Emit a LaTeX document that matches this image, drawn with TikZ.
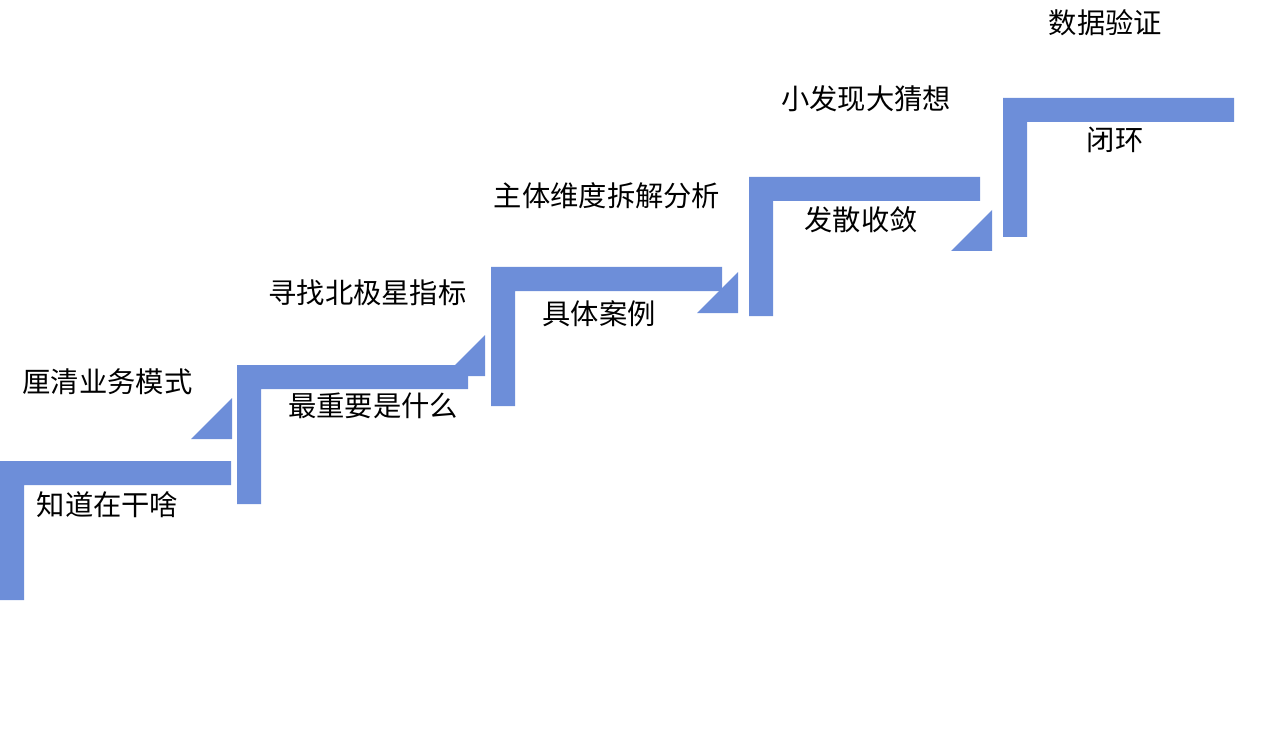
\documentclass[tikz,border=0pt]{standalone}
\usepackage{fontspec}
\usepackage{tikz}
\newfontfamily\cjkfont{Noto Sans CJK SC}
\definecolor{stepblue}{RGB}{109,142,217}

\begin{document}
\begin{tikzpicture}[x=1pt, y=-1pt,
    stepbar/.style={fill=stepblue},
    wedge/.style={fill=stepblue},
    lbl/.style={inner sep=0pt, font=\cjkfont\fontsize{28.3}{34}\selectfont}]
  \useasboundingbox (0,0) rectangle (1280,746);
  \coordinate (s1) at (0,461);
  \coordinate (s2) at (237,365);
  \coordinate (s3) at (491,267);
  \coordinate (s4) at (749,177);
  \coordinate (s5) at (1003,98);
  \coordinate (t1) at (232,439);
  \coordinate (t2) at (485,376);
  \coordinate (t3) at (738,313);
  \coordinate (t4) at (992,251);

  % small wedges between the steps
  \fill [wedge] (t1) -- ++(-41,0) -- ++(41,-41) -- cycle;
  \fill [wedge] (t2) -- ++(-41,0) -- ++(41,-41) -- cycle;
  \fill [wedge] (t3) -- ++(-41,0) -- ++(41,-41) -- cycle;
  \fill [wedge] (t4) -- ++(-41,0) -- ++(41,-41) -- cycle;

  % the steps
  \fill [stepbar] (s1) -- ++(231,0) -- ++(0,24) -- ++(-207,0) -- ++(0,115) -- ++(-24,0) -- cycle;
  \fill [stepbar] (s2) -- ++(231,0) -- ++(0,24) -- ++(-207,0) -- ++(0,115) -- ++(-24,0) -- cycle;
  \fill [stepbar] (s3) -- ++(231,0) -- ++(0,24) -- ++(-207,0) -- ++(0,115) -- ++(-24,0) -- cycle;
  \fill [stepbar] (s4) -- ++(231,0) -- ++(0,24) -- ++(-207,0) -- ++(0,115) -- ++(-24,0) -- cycle;
  \fill [stepbar] (s5) -- ++(231,0) -- ++(0,24) -- ++(-207,0) -- ++(0,115) -- ++(-24,0) -- cycle;

  \node [lbl] (up1) at (107.5,382) {厘清业务模式};
  \node [lbl] (up2) at (367.5,292.5) {寻找北极星指标};
  \node [lbl] (up3) at (607,196) {主体维度拆解分析};
  \node [lbl] (up4) at (866,99) {小发现大猜想};
  \node [lbl] (up5) at (1105.5,23) {数据验证};
  \node [lbl] (low1) at (107.5,505) {知道在干啥};
  \node [lbl] (low2) at (373,406) {最重要是什么};
  \node [lbl] (low3) at (599,314) {具体案例};
  \node [lbl] (low4) at (861,219.5) {发散收敛};
  \node [lbl] (low5) at (1115,140) {闭环};
\end{tikzpicture}
\end{document}
